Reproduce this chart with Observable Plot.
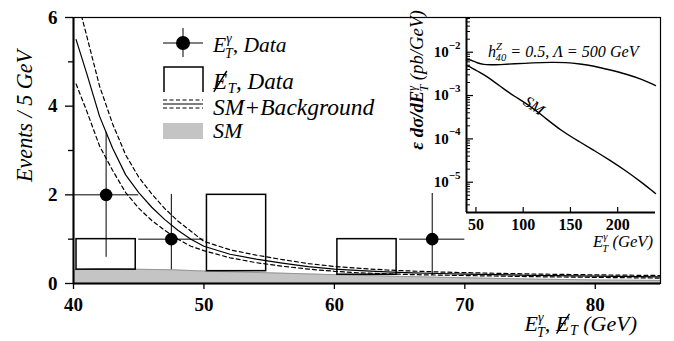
<!DOCTYPE html>
<html><head><meta charset="utf-8">
<script src="https://cdn.jsdelivr.net/npm/d3@7"></script>
<script src="https://cdn.jsdelivr.net/npm/@observablehq/plot@0.6"></script>
<style>
body{margin:0;background:#fff;}
#wrap{position:relative;width:674px;height:341px;}
#wrap svg{display:block;}
.inset{position:absolute;left:400px;top:0;}
</style></head><body><div id="wrap"></div>
<script>
const FONT = "'Liberation Serif','Times New Roman','DejaVu Serif',serif";

// ---- main panel data ----
const curveX   = [40.2,41,42,43,44,45,46,47,48,49,50,52,54,56,58,60,62,64,66,68,70,75,80,85];
const curveMid = [5.5,4.75,3.77,3.05,2.45,2.05,1.72,1.44,1.2,1.0,0.84,0.66,0.55,0.46,0.38,0.325,0.29,0.26,0.24,0.225,0.21,0.185,0.165,0.15];
const curveUp  = [6.5,5.6,4.45,3.6,2.9,2.4,2.02,1.69,1.41,1.18,0.95,0.76,0.64,0.54,0.45,0.385,0.34,0.305,0.28,0.26,0.245,0.215,0.195,0.18];
const curveLo  = [4.5,3.9,3.1,2.55,2.05,1.7,1.42,1.2,1.0,0.84,0.74,0.58,0.47,0.39,0.325,0.275,0.24,0.22,0.2,0.19,0.18,0.155,0.138,0.122];
const smX = [40,42,43.5,45,47.5,50,55,60,65,70,75,80,85];
const smY = [0.31,0.33,0.33,0.32,0.31,0.28,0.24,0.2,0.16,0.13,0.1,0.08,0.07];
const histLo = [40,50,60];
const histHi = [45,55,65];
const histN  = [1,2,1];
const ptX   = [42.5,47.5,67.5];
const ptY   = [2,1,1];
const ptYLo = [0.59,0.31,0.18];
const ptYHi = [3.41,2.01,2.03];
const ptXLo = [40,45,65];
const ptXHi = [45,50,70];
const yMajor = [0,2,4,6];
const yMinor = [1,3,5];
const xTicks = [40,50,60,70,80];

// ---- inset data ----
const aX = [40,43,47,52,58,65,75,90,110,130,145,160,175,190,211,225,240];
const aY = [6.6e-3,6.8e-3,6.3e-3,5.6e-3,5.2e-3,5.1e-3,5.15e-3,5.4e-3,5.7e-3,5.85e-3,5.8e-3,5.4e-3,4.8e-3,4.0e-3,3.05e-3,2.4e-3,1.7e-3];
const sX = [40,45,50,60,69,80,90,105,120,140,160,175,190,211,225,240];
const sY = [4.9e-3,4.5e-3,3.8e-3,2.9e-3,2.1e-3,1.4e-3,9.8e-4,6.2e-4,3.5e-4,1.55e-4,8.5e-5,5.4e-5,3.4e-5,1.7e-5,1.0e-5,5.5e-6];
const inXTicks = [50,100,150,200];
const inYMajor = [1e-5,1e-4,1e-3,1e-2];
const inYMinor = [];
for (const e of [-6,-5,-4,-3,-2]) for (const m of [2,3,4,5,6,7,8,9]) { const v = m*Math.pow(10,e); if (v>=2e-6 && v<=0.06) inYMinor.push(v); }

// ---- tables ----
const curve = curveX.map((x,i)=>({x, mid:curveMid[i], up:curveUp[i], lo:curveLo[i]}));
const sm = smX.map((x,i)=>({x, y:smY[i]}));
const smAt = x => { const i = Math.max(1, d3.bisectRight(smX, x)); const t=(x-smX[i-1])/(smX[i]-smX[i-1]); return smY[i-1]+t*(smY[i]-smY[i-1]); };
const hist = histLo.map((lo,i)=>({lo, hi:histHi[i], n:histN[i], base:smAt(lo+0.25)}));
const pts = ptX.map((x,i)=>({x, y:ptY[i], y1:ptYLo[i], y2:ptYHi[i], x1:ptXLo[i], x2:ptXHi[i]}));
const aTGC = aX.map((x,i)=>({x, y:aY[i]}));
const smIn = sX.map((x,i)=>({x, y:sY[i]}));

const main = Plot.plot({
  width:674, height:341, marginLeft:73, marginRight:14, marginTop:17, marginBottom:58,
  style:{fontFamily:FONT, background:"white", overflow:"visible", color:"black"},
  x:{domain:[40,85]}, y:{domain:[0,6]},
  marks:[
    Plot.areaY(sm, {x:"x", y:"y", fill:"#c4c4c4"}),
    Plot.lineY(sm, {x:"x", y:"y", stroke:"#8a8a8a", strokeWidth:0.8}),
    Plot.rect(hist, {x1:"lo", x2:"hi", y1:"base", y2:"n", fill:"none", stroke:"black", strokeWidth:1.5, insetLeft:3, insetRight:3}),
    Plot.line(curve, {x:"x", y:"mid", stroke:"black", strokeWidth:1.2, clip:true}),
    Plot.line(curve, {x:"x", y:"up", stroke:"black", strokeWidth:1.2, strokeDasharray:"4,3", clip:true}),
    Plot.line(curve, {x:"x", y:"lo", stroke:"black", strokeWidth:1.2, strokeDasharray:"4,3", clip:true}),
    Plot.ruleX(pts, {x:"x", y1:"y1", y2:"y2", stroke:"black", strokeWidth:1}),
    Plot.ruleY(pts, {y:"y", x1:"x1", x2:"x2", stroke:"black", strokeWidth:1}),
    Plot.dot(pts, {x:"x", y:"y", r:6.3, fill:"black", stroke:"none"}),
    Plot.axisY(yMajor, {tickSize:8, tickPadding:8, fontSize:19, fontWeight:"bold", label:null, strokeWidth:1.3}),
    Plot.axisY(yMinor, {tickSize:5, tickFormat:()=>"", label:null, strokeWidth:1.3}),
    Plot.axisX(xTicks, {tickSize:6, tickPadding:8, fontSize:19, fontWeight:"bold", label:null, strokeWidth:1.3}),
    Plot.ruleX([40], {strokeWidth:2}),
    Plot.ruleY([0], {strokeWidth:2}),
    Plot.frame({stroke:"black", strokeWidth:1.2})
  ]
});

const inset = Plot.plot({
  width:274, height:260, marginLeft:66, marginRight:19, marginTop:18, marginBottom:48,
  style:{fontFamily:FONT, background:"transparent", overflow:"visible", color:"black"},
  x:{domain:[40,240]}, y:{type:"log", domain:[2e-6,0.06]},
  marks:[
    Plot.line(aTGC, {x:"x", y:"y", stroke:"black", strokeWidth:1.4, curve:"basis"}),
    Plot.line(smIn, {x:"x", y:"y", stroke:"black", strokeWidth:1.4, curve:"basis"}),
    Plot.axisX(inXTicks, {tickSize:0, tickPadding:6, fontSize:16, fontWeight:"bold", label:null}),
    Plot.tickX(inXTicks, {x:d=>d, insetTop:194-5, stroke:"black", strokeWidth:1.2}),
    Plot.axisY(inYMajor, {tickSize:0, tickPadding:6, fontSize:15, fontWeight:"bold", label:null,
      tickFormat:d=>"10|"+Math.round(Math.log10(d))}),
    Plot.tickY(inYMajor, {y:d=>d, insetRight:189-7, stroke:"black", strokeWidth:1.2}),
    Plot.tickY(inYMinor, {y:d=>d, insetRight:189-4, stroke:"black", strokeWidth:1}),
    Plot.ruleX([40], {strokeWidth:2}),
    Plot.ruleY([2e-6], {strokeWidth:2})
  ]
});
inset.classList.add("inset");

d3.select(inset).selectAll('g[aria-label="y-axis tick label"] text').each(function(){
  const s = this.textContent; const [b,e] = s.split("|");
  const t = d3.select(this); t.text(b);
  t.append("tspan").attr("dy","-0.75em").attr("font-size","11px").text(e.replace("-","\u2212"));
});

const wrap = document.getElementById("wrap");
wrap.appendChild(main);
wrap.appendChild(inset);

const svg = d3.select(main);
// sub/superscript building blocks (em units scale with the text's font size)
const SUP = t => ({t, size:"0.64em", dy:"-0.62em"});
const SUBSTACK = t => ({t, size:"0.64em", dx:"-0.47em", dy:"1.05em"});
const BACK1 = t => ({t, dy:"-0.28em"});
const ESLASH = {t:"E", slash:true};
const SUB = t => ({t, size:"0.64em", dx:"0.05em", dy:"0.3em"});
const BACK2 = t => ({t, dy:"-0.19em"});

function rich(x, y, parts, {size=22, anchor="start", rotate=0, weight="normal", style="italic", target=null, lo=0.85, hi=1.15}={}) {
  const g = svg.append("g").attr("transform",`translate(${x},${y}) rotate(${rotate})`);
  const t = g.append("text")
    .attr("text-anchor",anchor).attr("font-family",FONT).attr("font-size",size)
    .attr("font-style",style).attr("font-weight",weight).attr("fill","black");
  const slashes = [];
  for (const p of parts) {
    const s = t.append("tspan").text(p.t);
    if (p.dx!=null) s.attr("dx",p.dx);
    if (p.dy!=null) s.attr("dy",p.dy);
    if (p.size) s.attr("font-size",p.size);
    if (p.weight) s.attr("font-weight",p.weight);
    if (p.slash) slashes.push(s);
  }
  let fs = size;
  if (target) {
    const w = t.node().getComputedTextLength();
    const k = Math.max(lo, Math.min(hi, target / w));
    fs = size*k;
    t.attr("font-size", fs.toFixed(2));
  }
  for (const s of slashes) {
    const b = s.node().getBBox();
    g.append("line").attr("x1", b.x + 0.12*b.width).attr("y1", 0.12*fs)
      .attr("x2", b.x + 0.98*b.width).attr("y2", -0.78*fs)
      .attr("stroke","black").attr("stroke-width", Math.max(1, fs/16));
  }
  return t;
}

// axis titles
rich(32, 116, [{t:"Events / 5 GeV"}], {rotate:-90, anchor:"middle", target:132});
rich(637, 331, [{t:"E"},SUP("\u03b3"),SUBSTACK("T"),BACK1(", "),
  ESLASH,SUB("T"),BACK2(" (GeV)")], {anchor:"end", size:22});

// legend
const lg = svg.append("g").attr("stroke","black").attr("fill","none");
lg.append("line").attr("x1",163).attr("x2",203).attr("y1",43).attr("y2",43).attr("stroke-width",1);
lg.append("line").attr("x1",183).attr("x2",183).attr("y1",28).attr("y2",57).attr("stroke-width",1);
lg.append("circle").attr("cx",183).attr("cy",43).attr("r",7).attr("fill","black").attr("stroke","none");
lg.append("path").attr("d","M164,92V67H203V92").attr("stroke-width",1.5);
lg.append("line").attr("x1",163).attr("x2",203).attr("y1",100).attr("y2",100).attr("stroke-dasharray","4,2.5").attr("stroke-width",1.1);
lg.append("line").attr("x1",163).attr("x2",203).attr("y1",104).attr("y2",104).attr("stroke-width",1.1);
lg.append("line").attr("x1",163).attr("x2",203).attr("y1",108).attr("y2",108).attr("stroke-dasharray","4,2.5").attr("stroke-width",1.1);
lg.append("rect").attr("x",163).attr("y",123).attr("width",40).attr("height",16).attr("fill","#c4c4c4").attr("stroke","none");
rich(213, 52, [{t:"E"},SUP("\u03b3"),SUBSTACK("T"),BACK1(", Data")], {target:80});
rich(213, 89, [ESLASH,SUB("T"),BACK2(", Data")], {target:80});
rich(213, 115, [{t:"SM+Background"}], {target:178, hi:1.07});
rich(213, 138, [{t:"SM"}]);

// inset texts
rich(423, 80, [{t:"\u03b5 d\u03c3/dE",weight:"bold"},SUP("\u03b3"),SUBSTACK("T"),BACK1(" (pb/GeV)")], {size:17, rotate:-90, anchor:"middle", target:145});
rich(653, 247, [{t:"E"},SUP("\u03b3"),SUBSTACK("T"),BACK1(" (GeV)")], {size:17, anchor:"end", target:65});
rich(488, 57, [{t:"h"},{t:"Z",size:"0.66em",dy:"-0.62em"},{t:"40",size:"0.66em",dx:"-0.6em",dy:"1.0em"},{t:" = 0.5, \u039b = 500 GeV",dy:"-0.25em"}], {size:16.5, target:157});
rich(531, 110, [{t:"SM"}], {size:16, rotate:34, anchor:"middle"});
</script></body></html>
